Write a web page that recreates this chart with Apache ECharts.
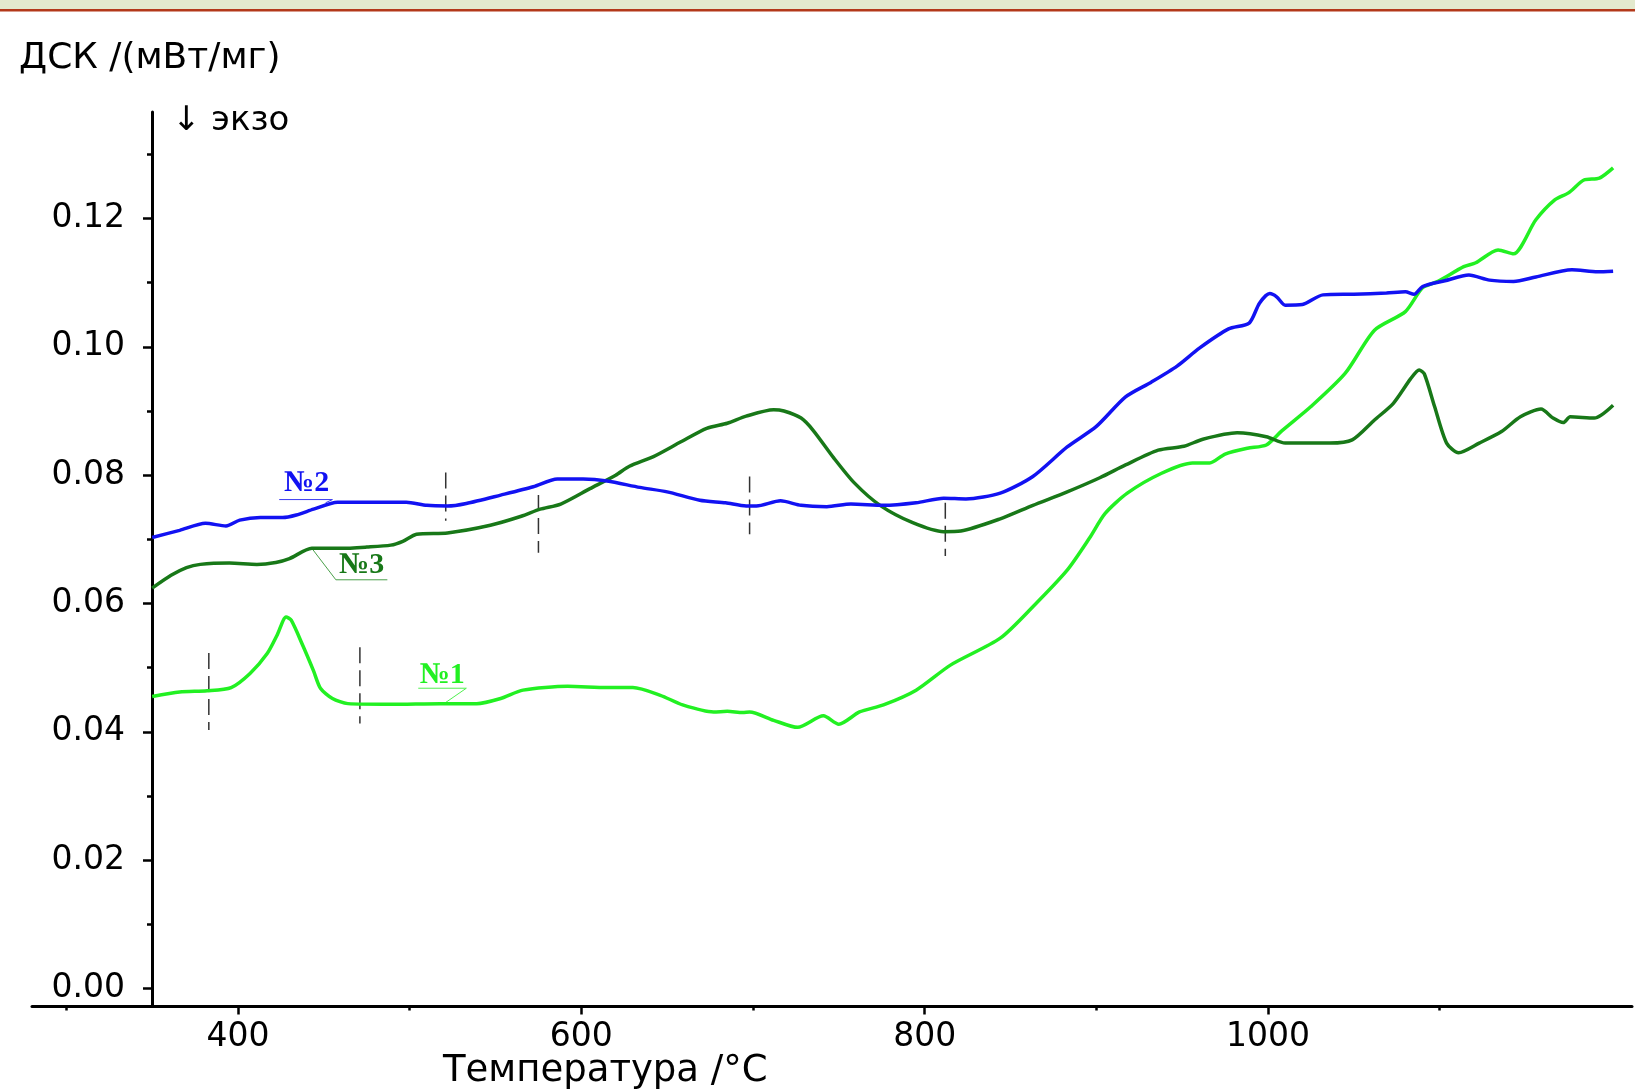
<!DOCTYPE html>
<html>
<head>
<meta charset="utf-8">
<title>ДСК</title>
<script src="https://cdn.jsdelivr.net/npm/echarts@6/dist/echarts.min.js"></script>
<style>
    html, body { margin: 0; padding: 0; background: #ffffff; }
    #dsc { width: 1635px; height: 1091px; }
</style>
</head>
<body>
<div id="dsc"></div>
<script>
// №1 (светло-зелёная кривая)
var tempNo1 = [350, 366, 382, 396, 407, 417, 423, 428, 431, 438, 444, 448, 455, 464, 489, 518, 539, 553, 566, 592,
    615, 630, 646, 659, 677, 685, 694, 698, 712, 726, 741, 750, 762, 776, 795, 815, 844, 863, 883, 896,
    905, 918, 938, 956, 966, 975, 988, 999, 1008, 1025, 1045, 1062, 1080, 1090, 1099, 1114, 1121, 1134, 1143, 1156,
    1167, 1175, 1184, 1193, 1201];
var dscNo1 = [0.0455, 0.0462, 0.0464, 0.0469, 0.0491, 0.0522, 0.0552, 0.0579, 0.0574, 0.0533, 0.0495, 0.0468, 0.0452, 0.0444, 0.0443, 0.0444, 0.0444, 0.0452, 0.0465, 0.0471,
    0.0469, 0.0469, 0.0457, 0.0442, 0.0431, 0.0432, 0.0430, 0.0431, 0.0418, 0.0407, 0.0425, 0.0412, 0.0431, 0.0442, 0.0465, 0.0504, 0.0546, 0.0595, 0.0652, 0.0702,
    0.0740, 0.0772, 0.0803, 0.0819, 0.0819, 0.0833, 0.0842, 0.0847, 0.0869, 0.0907, 0.0959, 0.1026, 0.1055, 0.1092, 0.1102, 0.1125, 0.1131, 0.1151, 0.1145, 0.1198,
    0.1229, 0.1240, 0.1260, 0.1263, 0.1279];

// №2 (синяя кривая)
var tempNo2 = [350, 366, 381, 393, 401, 413, 426, 434, 444, 458, 479, 498, 510, 522, 533, 553, 572, 586, 601, 615,
    634, 650, 669, 684, 696, 702, 716, 728, 743, 757, 776, 795, 811, 824, 844, 863, 883, 900, 917, 932,
    947, 960, 977, 989, 995, 1001, 1005, 1010, 1020, 1032, 1050, 1069, 1080, 1085, 1090, 1103, 1117, 1129, 1143, 1156,
    1177, 1192, 1201];
var dscNo2 = [0.0703, 0.0714, 0.0725, 0.0721, 0.0730, 0.0734, 0.0734, 0.0738, 0.0747, 0.0758, 0.0758, 0.0758, 0.0753, 0.0752, 0.0756, 0.0769, 0.0782, 0.0794, 0.0794, 0.0791,
    0.0781, 0.0774, 0.0761, 0.0757, 0.0752, 0.0752, 0.0760, 0.0753, 0.0751, 0.0755, 0.0753, 0.0757, 0.0764, 0.0763, 0.0772, 0.0798, 0.0844, 0.0876, 0.0922, 0.0945,
    0.0970, 0.0998, 0.1028, 0.1037, 0.1068, 0.1083, 0.1078, 0.1065, 0.1066, 0.1081, 0.1082, 0.1084, 0.1086, 0.1082, 0.1094, 0.1103, 0.1112, 0.1104, 0.1102, 0.1109,
    0.1120, 0.1117, 0.1118];

// №3 (тёмно-зелёная кривая)
var tempNo3 = [350, 361, 370, 378, 395, 411, 422, 430, 443, 460, 475, 489, 496, 504, 522, 547, 565, 576, 588, 605,
    620, 628, 642, 658, 673, 685, 696, 712, 718, 728, 735, 747, 759, 774, 793, 811, 821, 844, 863, 883,
    902, 917, 936, 951, 962, 982, 999, 1010, 1036, 1049, 1062, 1073, 1083, 1088, 1091, 1097, 1104, 1111, 1123, 1136,
    1147, 1159, 1166, 1172, 1176, 1190, 1201];
var dscNo3 = [0.0624, 0.0644, 0.0656, 0.0661, 0.0663, 0.0661, 0.0664, 0.0670, 0.0686, 0.0686, 0.0688, 0.0691, 0.0697, 0.0708, 0.0710, 0.0722, 0.0736, 0.0747, 0.0755, 0.0779,
    0.0800, 0.0814, 0.0829, 0.0852, 0.0873, 0.0881, 0.0892, 0.0902, 0.0900, 0.0889, 0.0870, 0.0827, 0.0788, 0.0753, 0.0726, 0.0712, 0.0713, 0.0732, 0.0753, 0.0774,
    0.0796, 0.0816, 0.0839, 0.0845, 0.0856, 0.0866, 0.0860, 0.0850, 0.0850, 0.0855, 0.0886, 0.0912, 0.0950, 0.0964, 0.0958, 0.0907, 0.0850, 0.0835, 0.0850, 0.0868,
    0.0891, 0.0903, 0.0889, 0.0882, 0.0891, 0.0889, 0.0909];

// пунктирные отметки (температура, верх, низ)
var markerTemp = [383, 471, 521, 575, 698, 812];
var markerTop = [0.0523, 0.0532, 0.0804, 0.0769, 0.0798, 0.0757];
var markerBottom = [0.0403, 0.0413, 0.0729, 0.0679, 0.0708, 0.0674];

// деления осей
var xMajorTicks = [400, 600, 800, 1000];
var xMinorTicks = [300, 500, 700, 900, 1100];
var yMajorTicks = [0, 0.02, 0.04, 0.06, 0.08, 0.10, 0.12];
var yMinorTicks = [0.01, 0.03, 0.05, 0.07, 0.09, 0.11, 0.13];

var DscChart = {
    colorNo1: '#22f022',
    colorNo2: '#1212f2',
    colorNo3: '#187818',
    font: 'DejaVu Sans',

    init: function () {
        var myChart = echarts.init(document.getElementById('dsc'));
        myChart.setOption(DscChart.buildOption());
    },

    zip: function (xs, ys) {
        var out = [];
        for (var i = 0; i < xs.length; i++) {
            out.push([xs[i], ys[i]]);
        }
        return out;
    },

    curve: function (name, temps, values, color) {
        return {
            name: name,
            type: 'line',
            data: DscChart.zip(temps, values),
            showSymbol: false,
            smooth: 0.25,
            lineStyle: { color: color, width: 3.5 },
            silent: true
        };
    },

    // подчёркивание и выноска у подписи
    leader: function (points, color) {
        return {
            type: 'line',
            data: points,
            showSymbol: false,
            lineStyle: { color: color, width: 1 },
            silent: true,
            z: 1
        };
    },

    titleText: function (text, left, top, size) {
        return {
            text: text,
            left: left,
            top: top,
            padding: 0,
            textStyle: { fontFamily: DscChart.font, fontSize: size, fontWeight: 'normal', color: '#000' }
        };
    },

    buildOption: function () {
        var markers = [];
        for (var i = 0; i < markerTemp.length; i++) {
            markers.push([markerTemp[i], markerTop[i], markerBottom[i]]);
        }

        var option = {
            backgroundColor: '#ffffff',
            animation: false,
            title: [
                DscChart.titleText('ДСК /(мВт/мг)', 19, 41, 36),
                DscChart.titleText('↓ экзо', 172, 104, 34),
                DscChart.titleText('Температура /°C', 443, 1053, 37)
            ],
            graphic: [{
                type: 'rect',
                shape: { x: 0, y: 0, width: 1635, height: 9 },
                style: { fill: '#e3e9cd' }
            }, {
                type: 'rect',
                shape: { x: 0, y: 9, width: 1635, height: 2.5 },
                style: { fill: '#b3391a' }
            }],
            grid: { left: 32, right: 3, top: 112, bottom: 84.5 },
            xAxis: [{
                type: 'value',
                min: 280, max: 1212,
                position: 'bottom',
                axisLine: { show: true, onZero: false, lineStyle: { color: '#000', width: 3 } },
                axisTick: { show: true, length: 8, customValues: xMajorTicks, lineStyle: { color: '#000', width: 2.5 } },
                axisLabel: {
                    customValues: xMajorTicks,
                    margin: 14,
                    fontFamily: DscChart.font,
                    fontSize: 33,
                    color: '#000',
                    formatter: function (v) { return String(v); }
                },
                splitLine: { show: false }
            }, {
                type: 'value',
                min: 280, max: 1212,
                position: 'bottom',
                axisLine: { show: false, onZero: false },
                axisTick: { show: true, length: 4, customValues: xMinorTicks, lineStyle: { color: '#000', width: 2.5 } },
                axisLabel: { show: false },
                splitLine: { show: false }
            }],
            yAxis: [{
                type: 'value',
                min: -0.0028, max: 0.1366,
                position: 'left',
                offset: -120,
                axisLine: { show: true, onZero: false, lineStyle: { color: '#000', width: 3 } },
                axisTick: { show: true, length: 9, customValues: yMajorTicks, lineStyle: { color: '#000', width: 2.5 } },
                axisLabel: {
                    customValues: yMajorTicks,
                    margin: 27,
                    fontFamily: DscChart.font,
                    fontSize: 33,
                    color: '#000',
                    formatter: function (v) { return v.toFixed(2); }
                },
                splitLine: { show: false }
            }, {
                type: 'value',
                min: -0.0028, max: 0.1366,
                position: 'left',
                offset: -120,
                axisLine: { show: false, onZero: false },
                axisTick: { show: true, length: 5, customValues: yMinorTicks, lineStyle: { color: '#000', width: 2.5 } },
                axisLabel: { show: false },
                splitLine: { show: false }
            }],
            series: [
                DscChart.curve('№1', tempNo1, dscNo1, DscChart.colorNo1),
                DscChart.curve('№3', tempNo3, dscNo3, DscChart.colorNo3),
                DscChart.curve('№2', tempNo2, dscNo2, DscChart.colorNo2),
                DscChart.leader([[424, 0.0762], [455, 0.0762], [451, 0.0757]], '#3a3af0'),
                DscChart.leader([[443, 0.0686], [457, 0.0637], [487, 0.0637]], '#4aa04a'),
                DscChart.leader([[505, 0.0468], [533, 0.0468], [520, 0.0444]], '#50f050'),
                {
                    // пунктирные отметки
                    type: 'custom',
                    data: markers,
                    silent: true,
                    z: 3,
                    renderItem: function (params, api) {
                        var p1 = api.coord([api.value(0), api.value(1)]);
                        var p2 = api.coord([api.value(0), api.value(2)]);
                        return {
                            type: 'line',
                            shape: { x1: p1[0], y1: p1[1], x2: p2[0], y2: p2[1] },
                            style: { stroke: '#333', lineWidth: 1.5, lineDash: [16, 7] }
                        };
                    }
                },
                {
                    // подписи образцов
                    type: 'scatter',
                    symbolSize: 1,
                    itemStyle: { color: 'rgba(0,0,0,0)' },
                    silent: true,
                    z: 4,
                    label: {
                        show: true,
                        position: 'inside',
                        formatter: '{b}',
                        fontFamily: 'Liberation Serif',
                        fontWeight: 'bold',
                        fontSize: 30,
                        textBorderWidth: 0,
                        opacity: 1
                    },
                    data: [
                        { name: '№2', value: [440, 0.0788], label: { color: DscChart.colorNo2 } },
                        { name: '№3', value: [472, 0.0660], label: { color: DscChart.colorNo3 } },
                        { name: '№1', value: [519, 0.0488], label: { color: DscChart.colorNo1 } }
                    ]
                }
            ]
        };
        return option;
    }
};

DscChart.init();
</script>
</body>
</html>
